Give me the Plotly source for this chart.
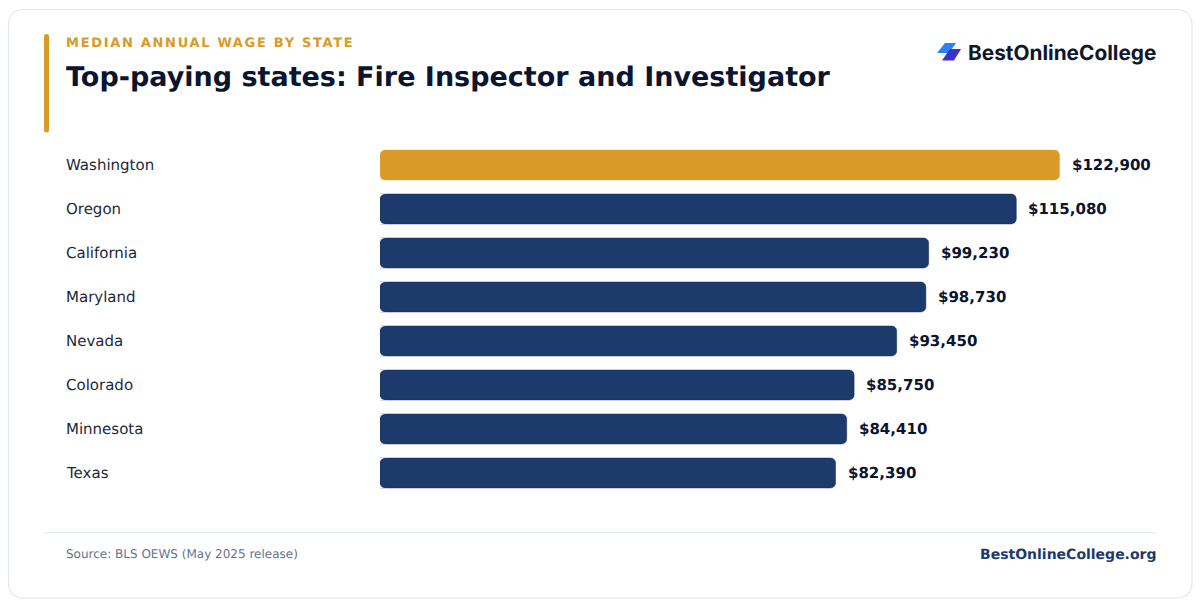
import plotly.graph_objects as go

# Data
states = ["Washington", "Oregon", "California", "Maryland", "Nevada", "Colorado", "Minnesota", "Texas"]
wages = [122900, 115080, 99230, 98730, 93450, 85750, 84410, 82390]
wage_labels = ["$122,900", "$115,080", "$99,230", "$98,730", "$93,450", "$85,750", "$84,410", "$82,390"]
bar_colors = ["#D99A27", "#1C3A6B", "#1C3A6B", "#1C3A6B", "#1C3A6B", "#1C3A6B", "#1C3A6B", "#1C3A6B"]
edge_colors = ["#E2A632", "#142F60", "#142F60", "#142F60", "#142F60", "#142F60", "#142F60", "#142F60"]

W, H = 1200, 606
FONT = "DejaVu Sans"
PAD = 2  # annotations sit 2px inside their anchor (border + pad)


def px_x(x):
    return x / W


def px_y(y):
    return 1 - y / H


def rounded_path(x0, y0, x1, y1, r):
    # rounded rectangle in paper coordinates, given in page pixels
    pts = [
        f"M {px_x(x0 + r)} {px_y(y0)}", f"L {px_x(x1 - r)} {px_y(y0)}",
        f"Q {px_x(x1)} {px_y(y0)} {px_x(x1)} {px_y(y0 + r)}", f"L {px_x(x1)} {px_y(y1 - r)}",
        f"Q {px_x(x1)} {px_y(y1)} {px_x(x1 - r)} {px_y(y1)}", f"L {px_x(x0 + r)} {px_y(y1)}",
        f"Q {px_x(x0)} {px_y(y1)} {px_x(x0)} {px_y(y1 - r)}", f"L {px_x(x0)} {px_y(y0 + r)}",
        f"Q {px_x(x0)} {px_y(y0)} {px_x(x0 + r)} {px_y(y0)}", "Z",
    ]
    return " ".join(pts)


def poly_path(points):
    return "M " + " L ".join(f"{px_x(a)} {px_y(b)}" for a, b in points) + " Z"


def page_text(x, y, text, size, color, weight="normal", anchor="left", family=FONT):
    x = x - PAD if anchor == "left" else x + PAD
    fig.add_annotation(
        xref="paper", yref="paper", x=px_x(x), y=px_y(y), text=text, showarrow=False,
        xanchor=anchor, yanchor="middle", align=anchor,
        font=dict(family=family, size=size, color=color, weight=weight),
    )


fig = go.Figure(go.Bar(
    x=wages, y=states, orientation="h",
    marker=dict(color=bar_colors, cornerradius=5, line=dict(width=0.5, color=edge_colors)),
    hoverinfo="skip", width=0.68,
))

fig.update_layout(
    width=W, height=H, autosize=False,
    margin=dict(l=0, r=0, t=0, b=0),
    paper_bgcolor="#FFFFFF", plot_bgcolor="rgba(0,0,0,0)",
    showlegend=False, font=dict(family=FONT),
    xaxis=dict(domain=[px_x(380), px_x(1156)], range=[0, 140350], visible=False, fixedrange=True),
    yaxis=dict(domain=[px_y(495), px_y(143)], autorange="reversed", visible=False, fixedrange=True,
               categoryorder="array", categoryarray=states),
)

# card, accent, footer rule, logo
decor = [
    dict(path=rounded_path(8.5, 9.5, 1192, 598, 16), fillcolor="#FFFFFF", line=dict(color="#E2E8F0", width=1.2)),
    dict(path=rounded_path(44, 34, 49, 132.5, 2.5), fillcolor="#D99A27", line=dict(width=0)),
    dict(path=poly_path([(945, 43), (956, 43), (949, 53), (937, 53)]), fillcolor="#2D7FF9", line=dict(width=0)),
    dict(path=poly_path([(950, 49), (961, 49), (954, 60.5), (942, 60.5)]), fillcolor="#3A32C9",
         line=dict(width=0)),
]
for d in decor:
    fig.add_shape(type="path", xref="paper", yref="paper", layer="below", **d)
fig.add_shape(type="line", xref="paper", yref="paper", x0=px_x(44), x1=px_x(1156), y0=px_y(532.5), y1=px_y(532.5),
              line=dict(color="#E2E8F0", width=1), layer="below")

# plotly only rounds the far end of a bar, so the left corners get white masks
for i in range(len(states)):
    top = 149.7 + 44 * i
    bottom = top + 30.6
    left = 379.5
    r = 7
    for corner in (
        f"M {px_x(left)} {px_y(top)} L {px_x(left + r)} {px_y(top)} Q {px_x(left)} {px_y(top)} {px_x(left)} {px_y(top + r)} Z",
        f"M {px_x(left)} {px_y(bottom)} L {px_x(left + r)} {px_y(bottom)} Q {px_x(left)} {px_y(bottom)} {px_x(left)} {px_y(bottom - r)} Z",
    ):
        fig.add_shape(type="path", xref="paper", yref="paper", layer="above", path=corner,
                      fillcolor="#FFFFFF", line=dict(width=0))

# left-aligned state names and value labels
for state, wage, label in zip(states, wages, wage_labels):
    fig.add_annotation(xref="paper", yref="y", x=px_x(66 - PAD), y=state, text=state, showarrow=False,
                       xanchor="left", yanchor="middle", font=dict(family=FONT, size=15, color="#1E293B"))
    fig.add_annotation(xref="x", yref="y", x=wage, y=state, text=label, showarrow=False, xshift=10,
                       xanchor="left", yanchor="middle",
                       font=dict(family=FONT, size=15, color="#0B1530", weight="bold"))

page_text(66, 42, "MEDIAN ANNUAL WAGE BY STATE", 13, "#D99A27", "bold")
page_text(66, 76.5, "Top-paying states: Fire Inspector and Investigator", 27, "#0B1530", "bold")
page_text(1156, 52, "BestOnlineCollege", 20.8, "#0F172A", "bold", "right", "Inter")
page_text(66, 554, "Source: BLS OEWS (May 2025 release)", 12, "#64748B")
page_text(1155.5, 554, "BestOnlineCollege.org", 14, "#1C3A6B", "bold", "right")

# page margin off, unhinted text, letter spacing on the eyebrow (plotly has no option for these)
page_js = """
document.body.style.margin='0';
document.body.style.overflow='hidden';
document.querySelectorAll('.annotation-text').forEach(function(t){
  t.style.textRendering = 'geometricPrecision';
  if (t.textContent.indexOf('MEDIAN') === 0) { t.style.letterSpacing = '1.69px'; }
});
"""
fig.write_html("out.html", config={"displayModeBar": False}, post_script=page_js)
